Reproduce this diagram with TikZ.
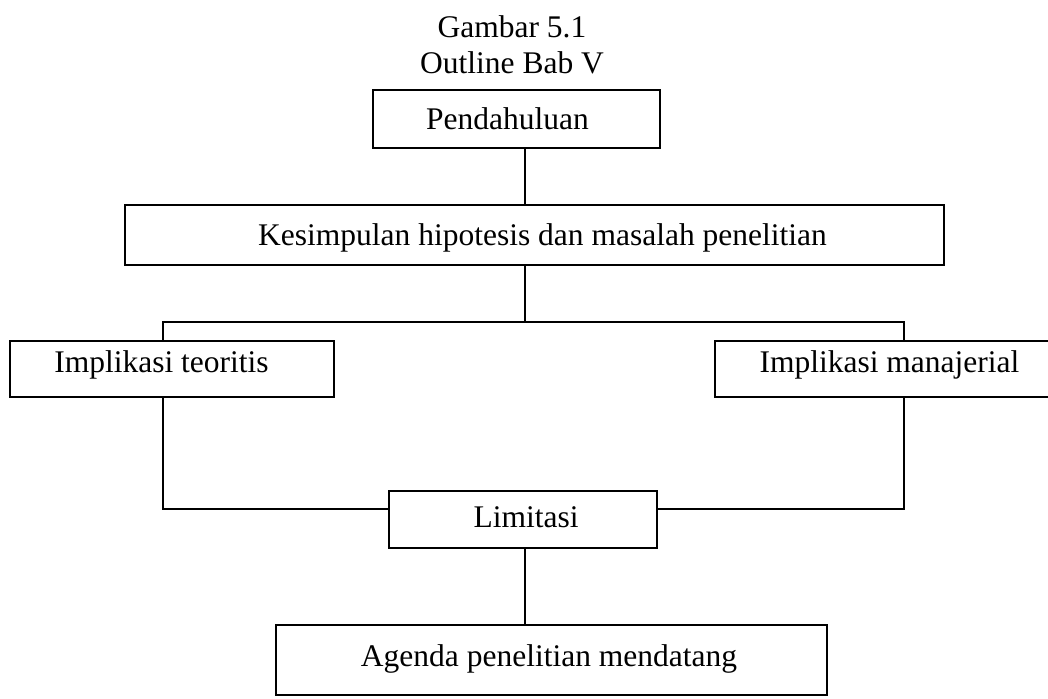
\documentclass[tikz,border=0pt]{standalone}
\usepackage{fontspec}
\setmainfont{Liberation Serif}
\begin{document}
\begin{tikzpicture}[x=1pt,y=-1pt,
  every node/.style={font=\fontsize{31.5pt}{36pt}\selectfont},
  boxnode/.style={draw, line width=2.8pt, rectangle, inner sep=0pt,
    text height=20.8pt, text depth=0pt},
  conn/.style={line width=2.3pt}]
\useasboundingbox (0,0) rectangle (1048,698);
% title
\node[anchor=base] (t1) at (512,37.8) {Gambar 5.1};
\node[anchor=base] (t2) at (512,73.5) {Outline Bab V};
% boxes
\node[boxnode, minimum width=287pt, minimum height=58pt] (pend) at (516.5,119) {Pendahuluan\kern18pt};
\node[boxnode, minimum width=819pt, minimum height=60pt] (kes) at (534.5,235) {\kern16pt Kesimpulan hipotesis dan masalah penelitian};
\node[boxnode, minimum width=324pt, minimum height=56pt, text depth=14pt] (teo) at (172,369) {Implikasi teoritis\kern21pt};
\node[boxnode, minimum width=335pt, minimum height=56pt, text depth=14pt] (man) at (882.5,369) {\kern14pt Implikasi manajerial};
\node[boxnode, minimum width=268pt, minimum height=57pt, text depth=4pt] (lim) at (523,519.5) {\kern6pt Limitasi};
\node[boxnode, minimum width=551pt, minimum height=70pt, text depth=8pt] (age) at (551.5,660) {Agenda penelitian mendatang\kern5pt};
% helper coordinates
\coordinate (sp) at (525,0);
\coordinate (lx) at (163,0);
\coordinate (rx) at (904,0);
\coordinate (bar) at (525,322);
\coordinate (jy) at (0,509);
% connectors
\draw[conn] (pend.south -| sp) -- (kes.north -| sp);
\draw[conn] (kes.south -| sp) -- (bar);
\draw[conn] (teo.north -| lx) |- (bar) -| (man.north -| rx);
\draw[conn] (teo.south -| lx) |- (lim.west |- jy);
\draw[conn] (man.south -| rx) |- (lim.east |- jy);
\draw[conn] (lim.south -| sp) -- (age.north -| sp);
\end{tikzpicture}
\end{document}
